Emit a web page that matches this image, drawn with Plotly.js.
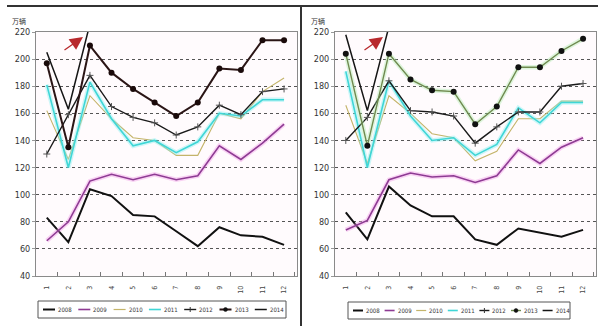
<!DOCTYPE html>
<html>
<head>
<meta charset="utf-8">
<script src="https://cdn.plot.ly/plotly-3.0.1.min.js"></script>
<style>html,body{margin:0;padding:0;background:#fff;}#chart{width:600px;height:326px;}</style>
</head>
<body>
<div id="chart"></div>
<script>
// ---------- data ----------
const months = ['1','2','3','4','5','6','7','8','9','10','11','12'];
const years = ['2008','2009','2010','2011','2012','2013','2014'];
const unitLabel = '万辆';

// left panel
const left2008 = [83, 65, 104, 99, 85, 84, 73, 62, 76, 70, 69, 63];
const left2009 = [66, 80, 110, 115, 111, 115, 111, 114, 136, 126, 138, 152];
const left2010 = [162, 126, 173, 156, 142, 140, 129, 129, 160, 156, 176, 186];
const left2011 = [181, 120, 183, 156, 136, 140, 131, 139, 160, 158, 170, 170];
const left2012 = [130, 159, 188, 165, 157, 153, 144, 150, 166, 159, 176, 178];
const left2013 = [197, 135, 210, 190, 178, 168, 158, 168, 193, 192, 214, 214];
const left2014 = [205, 163, 226];

// right panel
const right2008 = [87, 67, 106, 92, 84, 84, 67, 63, 75, 72, 69, 74];
const right2009 = [74, 81, 111, 116, 113, 114, 109, 114, 133, 123, 135, 142];
const right2010 = [166, 123, 173, 160, 145, 142, 125, 132, 156, 156, 169, 169];
const right2011 = [191, 120, 184, 158, 140, 142, 129, 137, 164, 153, 168, 168];
const right2012 = [140, 157, 184, 162, 161, 158, 138, 150, 161, 161, 180, 182];
const right2013 = [204, 136, 204, 185, 177, 176, 152, 165, 194, 194, 206, 215];
const right2014 = [218, 162, 224];

const leftSeries = [left2008, left2009, left2010, left2011, left2012, left2013, left2014];
const rightSeries = [right2008, right2009, right2010, right2011, right2012, right2013, right2014];

// ---------- styles ----------
const W = 600, H = 326;
const px = x => x / W;
const py = y => 1 - y / H;

function styles(panel) {
  return [
    {color: '#111111', width: 2},
    {color: '#8e3b93', width: 1.6, glow: 'rgba(240,150,230,0.4)'},
    {color: '#c4b46a', width: 1.1},
    {color: '#3fd6d6', width: 1.6, glow: 'rgba(130,240,240,0.4)'},
    {color: '#1a1a1a', width: 1.4, marker: {symbol: 'cross-thin-open', size: 5, color: '#555', line: {width: 1, color: '#555'}}},
    panel === 'L'
      ? {color: '#2a1515', width: 2, marker: {symbol: 'circle', size: 6, color: '#1a0a0a'}}
      : {color: '#6f8a4f', width: 1.4, glow: 'rgba(160,235,160,0.35)', marker: {symbol: 'circle', size: 6, color: '#111'}},
    {color: '#151515', width: 1.5}
  ];
}

const traces = [];
function addPanel(series, xa, ya, panel) {
  const st = styles(panel);
  series.forEach((vals, i) => {
    const s = st[i];
    const xs = months.slice(0, vals.length);
    if (s.glow) {
      traces.push({type: 'scatter', mode: 'lines', x: xs, y: vals, xaxis: xa, yaxis: ya,
        line: {color: s.glow, width: 4.5}, showlegend: false, hoverinfo: 'skip'});
    }
    const t = {type: 'scatter', mode: s.marker ? 'lines+markers' : 'lines', x: xs, y: vals,
      xaxis: xa, yaxis: ya, name: years[i], line: {color: s.color, width: s.width}, showlegend: false};
    if (s.marker) t.marker = s.marker;
    traces.push(t);
  });
}
addPanel(leftSeries, 'x', 'y', 'L');
addPanel(rightSeries, 'x2', 'y2', 'R');

// ---------- axes ----------
const tickFont = {family: 'Liberation Sans Narrow, DejaVu Sans Condensed, sans-serif', size: 9, color: '#333'};
function xAxis(domain, anchor) {
  return {domain: domain, anchor: anchor, type: 'category', range: [-0.5, 11.6],
    tickson: 'boundaries', ticks: 'inside', ticklen: 4, tickcolor: '#777', tickwidth: 1,
    tickangle: -90, ticklabelstandoff: 6,
    tickfont: {family: 'DejaVu Sans Condensed, sans-serif', size: 7, color: '#444'},
    showline: true, linecolor: '#8a8a8a', linewidth: 1, mirror: true,
    showgrid: false, zeroline: false, fixedrange: true};
}
function yAxis(domain, anchor) {
  return {domain: domain, anchor: anchor, range: [40, 220], dtick: 20, tick0: 40,
    ticks: 'outside', ticklen: 3, tickcolor: '#999', tickfont: tickFont,
    showline: true, linecolor: '#8a8a8a', linewidth: 1, mirror: true,
    showgrid: true, gridcolor: '#555', griddash: 'dot', gridwidth: 1,
    zeroline: false, fixedrange: true};
}
const yDom = [py(276), py(32)];

// ---------- hand-built legends and decorations ----------
const shapes = [];
const annotations = [];

function legend(panel, x0, x1, y0, y1, start, step, lineLen) {
  const st = styles(panel);
  shapes.push({type: 'rect', xref: 'paper', yref: 'paper', x0: px(x0), x1: px(x1), y0: py(y1), y1: py(y0),
    line: {color: '#555', width: 1}, fillcolor: 'rgba(255,255,255,0)'});
  const yc = (y0 + y1) / 2;
  years.forEach((yr, i) => {
    const sx = start + step * i;
    const s = st[i];
    shapes.push({type: 'line', xref: 'paper', yref: 'paper', x0: px(sx), x1: px(sx + lineLen),
      y0: py(yc), y1: py(yc), line: {color: s.color, width: Math.max(1.2, s.width)}});
    if (i === 4) {
      shapes.push({type: 'line', xref: 'paper', yref: 'paper', x0: px(sx + lineLen / 2), x1: px(sx + lineLen / 2),
        y0: py(yc - 2.5), y1: py(yc + 2.5), line: {color: '#333', width: 1}});
    }
    if (i === 5) {
      shapes.push({type: 'circle', xref: 'paper', yref: 'paper', x0: px(sx + lineLen / 2 - 2), x1: px(sx + lineLen / 2 + 2),
        y0: py(yc + 2), y1: py(yc - 2), fillcolor: '#111', line: {color: '#111', width: 0.5}});
    }
    annotations.push({xref: 'paper', yref: 'paper', x: px(sx + lineLen + 1), y: py(yc), xanchor: 'left', yanchor: 'middle',
      text: yr, showarrow: false, font: {family: 'DejaVu Sans Condensed, sans-serif', size: 6, color: '#333'}});
  });
}
legend('L', 38, 286, 301, 318, 43, 35.3, 12);
legend('R', 348, 570, 302, 319, 353, 31.6, 10);

// frame lines of the two panels
shapes.push({type: 'line', xref: 'paper', yref: 'paper', x0: px(7), x1: px(598), y0: py(6), y1: py(6), line: {color: '#333', width: 2}});
shapes.push({type: 'line', xref: 'paper', yref: 'paper', x0: px(301), x1: px(301), y0: py(5), y1: py(326), line: {color: '#333', width: 2}});

// unit labels
[[19, 21], [318, 21]].forEach(p => {
  annotations.push({xref: 'paper', yref: 'paper', x: px(p[0]), y: py(p[1]), xanchor: 'center', yanchor: 'middle',
    text: unitLabel, showarrow: false, font: {family: 'Noto Sans CJK SC, sans-serif', size: 7, color: '#333'}});
});

// red arrows
[[83, 37], [383, 37]].forEach(p => {
  annotations.push({xref: 'paper', yref: 'paper', x: px(p[0]), y: py(p[1]), text: '', showarrow: true,
    ax: -20, ay: 14, arrowcolor: '#b8282c', arrowwidth: 1.3, arrowhead: 2, arrowsize: 2});
});

const layout = {
  width: W, height: H,
  margin: {l: 0, r: 0, t: 0, b: 0},
  paper_bgcolor: '#ffffff', plot_bgcolor: '#fffbfd',
  showlegend: false,
  xaxis: xAxis([px(36), px(297)], 'y'),
  yaxis: yAxis(yDom, 'x'),
  xaxis2: xAxis([px(335), px(596)], 'y2'),
  yaxis2: yAxis(yDom, 'x2'),
  shapes: shapes,
  annotations: annotations
};

Plotly.newPlot('chart', traces, layout, {displayModeBar: false, staticPlot: true});
</script>
</body>
</html>
